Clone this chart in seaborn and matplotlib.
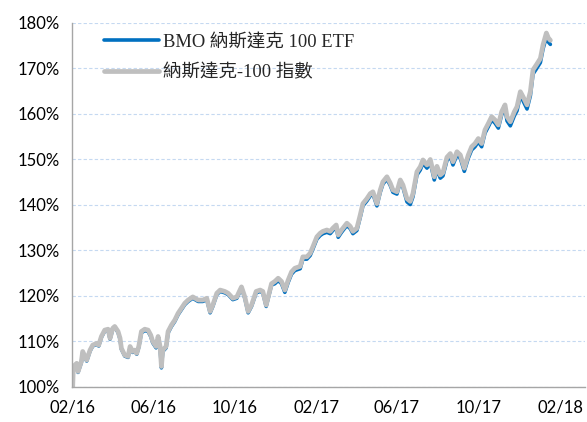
import matplotlib
matplotlib.use("Agg")
import matplotlib.pyplot as plt
import matplotlib.dates as mdates
from matplotlib.ticker import FuncFormatter
import seaborn as sns
import pandas as pd

# days since 2016-02-01
start = "2016-02-01"
days = [0, 1, 6, 8, 13, 15, 21, 26, 30, 36, 39, 43, 48, 53, 56, 60, 63, 68, 71, 73,
        78, 83, 86, 90, 93, 96, 99,
        103, 108, 113, 117, 120, 125, 128, 131, 133, 135, 140, 143, 148, 153, 158, 163,
        168, 173, 180, 188, 195, 201, 206, 210, 216, 221, 228, 233, 240, 246, 253, 258,
        263, 268, 275, 281, 285, 290, 293, 298,
        303, 308, 313, 318, 323, 328, 333, 341, 345, 351, 356, 360, 366, 371, 375, 381,
        386, 390, 395, 398, 403, 411, 416, 420, 426, 431, 435, 441, 446, 450, 456, 461,
        465, 471, 476, 480, 486, 491, 495,
        501, 506, 510, 516, 521, 525, 531, 536, 542, 546, 551, 555, 561, 566, 570, 576,
        581, 587, 593, 598, 603, 608, 613, 618, 623, 628, 633, 638, 643, 648,
        651, 656, 662, 666, 671, 675, 681, 686, 690, 695, 701, 705, 710, 713, 716]

# Nasdaq-100 index (grey), % of start
ndx = [100.0, 104.5, 105.2, 103.4, 105.6, 107.8, 105.9, 108.1, 109.2, 109.6, 109.2, 111.1,
       112.5, 112.7, 110.7, 112.9, 113.3, 112.2, 110.7, 108.5, 107.0, 106.7, 108.9, 107.8,
       108.1, 107.4, 108.9,
       112.2, 112.7, 112.5, 111.4, 110.0, 108.9, 111.1, 108.9, 104.5, 108.1, 108.9, 112.2,
       113.6, 114.7, 116.2, 117.3, 118.4, 119.1, 119.8, 119.1, 119.1, 119.5, 116.6, 118.0,
       120.6, 121.3, 121.0, 120.6, 119.5, 119.8, 122.0, 119.8, 116.6, 118.0, 121.0, 121.3,
       121.0, 118.0, 119.8, 122.7,
       123.2, 123.9, 123.2, 121.3, 123.5, 125.3, 126.1, 126.5, 128.6, 128.6, 129.4, 130.8,
       133.0, 133.8, 134.2, 134.5, 134.2, 134.9, 135.6, 133.4, 134.5, 136.0, 135.3, 134.2,
       134.9, 137.8, 140.3, 141.4, 142.5, 142.9, 140.3, 143.3, 145.1, 146.2, 144.8, 143.3,
       142.9, 145.5, 144.4,
       141.4, 140.8, 142.5, 147.3, 148.4, 149.9, 148.8, 150.0, 146.2, 148.5, 146.6, 147.1,
       150.5, 151.3, 149.5, 151.7, 151.0, 148.1, 151.0, 152.8, 153.5, 154.6, 153.5, 156.5,
       157.9, 159.4, 158.7, 157.6, 160.5, 162.0,
       159.4, 158.3, 160.5, 161.6, 164.9, 163.8, 162.0, 164.9, 169.7, 170.8, 172.2, 175.2,
       177.8, 176.7, 176.2]

# BMO ETF (blue), % of start
etf = [100.0, 104.3, 105.0, 103.2, 105.4, 107.6, 105.7, 107.9, 109.0, 109.4, 109.0, 110.9,
       112.3, 112.5, 110.5, 112.7, 113.1, 112.0, 110.5, 108.3, 106.8, 106.5, 108.7, 107.6,
       107.9, 107.2, 108.7,
       111.9, 112.4, 112.2, 111.1, 109.7, 108.6, 110.8, 108.6, 104.2, 107.8, 108.6, 111.9,
       113.3, 114.4, 115.9, 117.0, 118.1, 118.8, 119.5, 118.8, 118.8, 119.2, 116.3, 117.7,
       120.3, 121.0, 120.7, 120.3, 119.2, 119.5, 121.7, 119.5, 116.3, 117.7, 120.7, 121.0,
       120.7, 117.7, 119.5, 122.4,
       122.7, 123.4, 122.7, 120.8, 123.0, 124.8, 125.6, 126.0, 128.1, 128.1, 128.9, 130.3,
       132.5, 133.3, 133.7, 134.0, 133.7, 134.4, 135.1, 132.9, 134.0, 135.5, 134.8, 133.7,
       134.4, 137.3, 139.8, 140.9, 142.0, 142.4, 139.8, 142.8, 144.6, 145.7, 144.3, 142.8,
       142.4, 145.0, 143.9,
       140.7, 140.1, 141.8, 146.6, 147.7, 149.2, 148.1, 149.3, 145.5, 147.8, 145.9, 146.4,
       149.8, 150.6, 148.8, 151.0, 150.3, 147.4, 150.3, 152.1, 152.8, 153.9, 152.8, 155.8,
       157.2, 158.7, 158.0, 156.9, 159.8, 161.3,
       158.5, 157.4, 159.6, 160.7, 164.0, 162.9, 161.1, 164.0, 168.8, 169.9, 171.3, 174.3,
       176.9, 175.8, 175.3]

label_etf = "BMO 納斯達克 100 ETF"
label_ndx = "納斯達克-100 指數"
tick_dates = ["2016-02-01", "2016-06-01", "2016-10-01", "2017-02-01",
              "2017-06-01", "2017-10-01", "2018-02-01"]

dates = pd.to_datetime(start) + pd.to_timedelta(days, unit="D")
df = pd.DataFrame({"date": dates, "etf": etf, "ndx": ndx})

sns.set_style("white")
plt.rcParams["font.family"] = ["Lato", "Noto Sans CJK TC", "DejaVu Sans"]

fig = plt.figure(figsize=(5.87, 4.22), dpi=100)
ax = fig.add_axes([0.1227, 0.083, 0.874, 0.8625])

sns.lineplot(data=df, x="date", y="etf", ax=ax, color="#0070C0", linewidth=2.6,
             label=label_etf)
sns.lineplot(data=df, x="date", y="ndx", ax=ax, color="#BFBFBF", linewidth=3.4,
             label=label_ndx)

ax.set_ylim(100, 180)
ax.set_yticks(range(100, 181, 10))
ax.yaxis.set_major_formatter(FuncFormatter(lambda v, p: f"{v:.0f}%"))
ax.set_xlim(pd.Timestamp(start) - pd.Timedelta(days=1), pd.Timestamp(start) + pd.Timedelta(days=768))
ax.set_xticks(pd.to_datetime(tick_dates))
ax.xaxis.set_major_formatter(mdates.DateFormatter("%m/%y"))
ax.set_xlabel("")
ax.set_ylabel("")

ax.grid(axis="y", color="#C5D9F1", linestyle=(0, (3, 2)), linewidth=0.8)
ax.set_axisbelow(True)
for s in ["top", "right"]:
    ax.spines[s].set_visible(False)
for s in ["left", "bottom"]:
    ax.spines[s].set_color("#A6A6A6")
    ax.spines[s].set_linewidth(1.0)
ax.tick_params(axis="both", which="major", length=5, width=1, color="#A6A6A6",
               direction="out", labelsize=12, labelcolor="#000000", pad=4)

leg = ax.legend(loc="upper left", bbox_to_anchor=(0.062, 0.972), frameon=False,
                handlelength=3.0, handletextpad=0.2, labelspacing=0.75,
                borderaxespad=0, borderpad=0,
                prop={"family": ["Liberation Serif", "Noto Sans CJK TC"], "size": 13.3})

fig.savefig("out.png", dpi=100)
